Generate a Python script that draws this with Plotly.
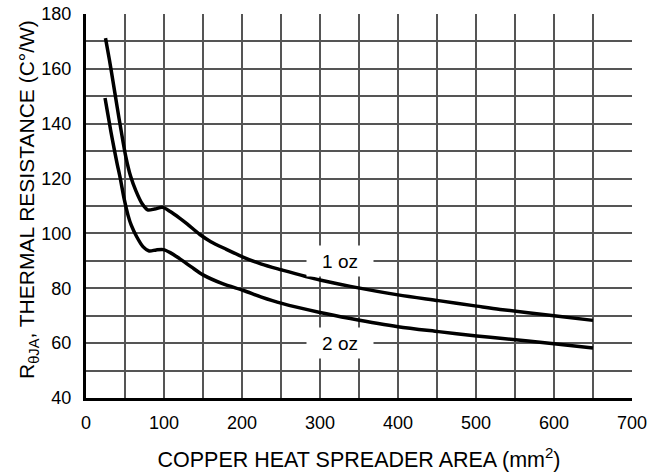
import plotly.graph_objects as go

# 1 oz copper curve
area_1oz = [25, 30, 34, 40, 45, 51, 57, 64, 72, 79, 88, 98, 108, 120, 130, 146, 160, 180, 202, 225,
            251, 300, 339, 400, 452, 501, 531, 600, 650]
rth_1oz = [171.2, 163.3, 156.5, 146, 137.5, 128, 121, 115.5, 110.8, 108.6, 108.9, 109.5, 108, 105.6, 103.4,
           99.6, 97, 94.2, 91.3, 88.8, 86.7, 83.0, 80.7, 77.6, 75.5, 73.5, 72.3, 70.0, 68.3]

# 2 oz copper curve
area_2oz = [24.4, 28, 32, 36, 40, 44, 49, 54, 58, 65, 73, 81, 90, 99, 108, 120, 135, 150, 175, 202,
            225, 251, 300, 339, 400, 452, 501, 531, 600, 650]
rth_2oz = [149.4, 143.5, 137, 131, 125.3, 120, 112.5, 106.5, 103, 98.8, 95.2, 93.6, 94.0, 94.1, 93.0, 90.8,
           87.8, 84.9, 81.7, 79.2, 76.8, 74.5, 71.2, 69.0, 66.0, 64.2, 62.6, 61.8, 59.8, 58.2]

series_labels = ["1 oz", "2 oz"]
label_pos = [(325, 90), (325, 60)]

x_ticks = [0, 100, 200, 300, 400, 500, 600, 700]
y_ticks = [40, 60, 80, 100, 120, 140, 160, 180]

FONT = "Liberation Sans, Arial, Helvetica, sans-serif"
GRID = "#555555"

fig = go.Figure()
for xs, ys, name in [(area_1oz, rth_1oz, series_labels[0]), (area_2oz, rth_2oz, series_labels[1])]:
    fig.add_trace(go.Scatter(x=xs, y=ys, mode="lines", name=name,
                             line=dict(color="black", width=3.5, shape="spline", smoothing=0.8),
                             showlegend=False))

for (lx, ly), txt in zip(label_pos, series_labels):
    fig.add_annotation(x=lx, y=ly, text=txt, showarrow=False, bgcolor="white",
                       width=64, height=28, borderpad=1,
                       font=dict(family=FONT, size=19, color="black"))

fig.add_annotation(xref="paper", yref="paper", x=-0.106, y=0.516,
                   text="R<sub>θJA</sub>, THERMAL RESISTANCE (C°/W)", textangle=-90,
                   showarrow=False, xanchor="center", yanchor="middle",
                   font=dict(family=FONT, size=21, color="black"))

fig.update_layout(
    width=655, height=472,
    margin=dict(l=86, r=23, t=14, b=74, autoexpand=False),
    paper_bgcolor="white", plot_bgcolor="white",
    font=dict(family=FONT, size=18, color="black"),
    xaxis=dict(range=[0, 700], tickvals=x_ticks, showgrid=True, gridcolor=GRID, gridwidth=1.5,
               minor=dict(dtick=50, showgrid=True, gridcolor=GRID, gridwidth=1.5, ticks=""),
               zeroline=False, showline=True, linecolor="black", linewidth=3,
               ticks="", ticklabelstandoff=6, automargin=False, ticklabeloverflow="allow",
               title=dict(text="COPPER HEAT SPREADER AREA (mm<sup>2</sup>)",
                          font=dict(family=FONT, size=21.5), standoff=22)),
    yaxis=dict(range=[40, 180], tickvals=y_ticks, showgrid=True, gridcolor=GRID, gridwidth=1.5,
               minor=dict(dtick=10, showgrid=True, gridcolor=GRID, gridwidth=1.5, ticks=""),
               zeroline=False, showline=True, linecolor="black", linewidth=3,
               ticks="", ticklabelstandoff=8, automargin=False, ticklabeloverflow="allow"),
)

# remove the browser's default 8 px body margin so the figure fills the window exactly
fig.write_html("out.html", config={"displayModeBar": False},
               post_script="document.body.style.margin='0px';")
